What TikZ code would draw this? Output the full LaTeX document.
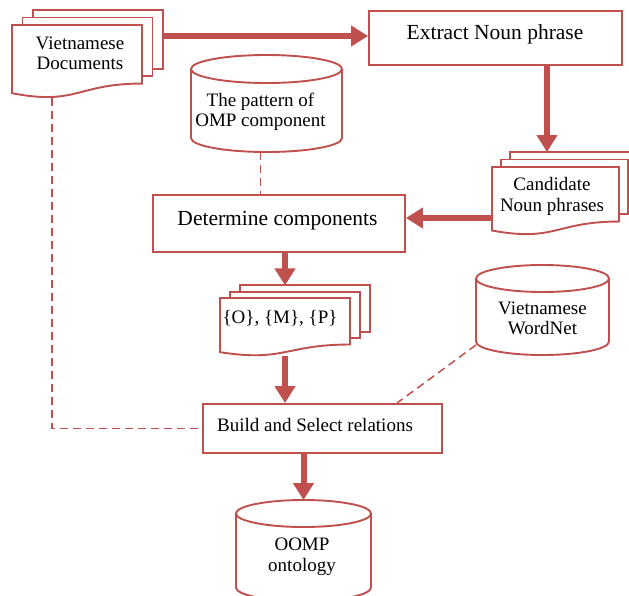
\documentclass[tikz,border=0pt]{standalone}
\usepackage{fontspec}
\setmainfont{Liberation Serif}
\usetikzlibrary{arrows.meta,calc}
\definecolor{rd}{HTML}{C0504D}
\tikzset{
  shp/.style={draw=rd, line width=1.9pt, fill=white},
  ghost/.style={draw=none, inner sep=0pt, outer sep=0pt},
  box/.style={shp, inner sep=0pt},
  arr/.style={draw=rd, line width=6pt, -{Triangle[length=17pt,width=20pt]}},
  dsh/.style={draw=rd, line width=1.5pt, dash pattern=on 8pt off 5pt},
  lbl/.style={font=\fontsize{19}{20.5}\selectfont, align=center, text=black, inner sep=0pt},
  big/.style={font=\fontsize{21.5}{23}\selectfont, text=black, inner sep=0pt},
}
% multi-document: name, x, y, w, h, dx, dy
\newcommand\mdoc[7]{%
  \draw[shp] ({#2+2*#6},{#3-2*#7}) rectangle ({#2+2*#6+#4},{#3+0.802*#5-2*#7});
  \node[ghost, minimum width={#4*1pt}, minimum height={0.802*#5*1pt}, anchor=north west] (#1back) at ({#2+2*#6},{#3-2*#7}) {};
  \draw[shp] ({#2+#6},{#3-#7}) rectangle ({#2+#6+#4},{#3+0.802*#5-#7});
  \draw[shp] (#2,#3) -- ({#2+#4},#3) -- ({#2+#4},{#3+0.802*#5})
     .. controls ({#2+0.5*#4},{#3+0.802*#5}) and ({#2+0.5*#4},{#3+1.107*#5}) .. (#2,{#3+0.934*#5}) -- cycle;
  \node[ghost, minimum width={#4*1pt}, minimum height={#5*1pt}, anchor=north west] (#1) at (#2,#3) {};
}
% cylinder: name, cx, top, w, h, ry
\newcommand\cyl[6]{%
  \draw[shp] ({#2-0.5*#4},{#3+#6}) -- ({#2-0.5*#4},{#3+#5-#6})
     .. controls ({#2-0.5*#4},{#3+#5-#6+0.5523*#6}) and ({#2-0.5523*0.5*#4},{#3+#5}) .. (#2,{#3+#5})
     .. controls ({#2+0.5523*0.5*#4},{#3+#5}) and ({#2+0.5*#4},{#3+#5-#6+0.5523*#6}) .. ({#2+0.5*#4},{#3+#5-#6})
     -- ({#2+0.5*#4},{#3+#6});
  \draw[shp] (#2,{#3+#6}) ellipse [x radius={0.5*#4*1pt}, y radius={#6*1pt}];
  \node[ghost, minimum width={#4*1pt}, minimum height={#5*1pt}, anchor=north] (#1) at (#2,#3) {};
}
\begin{document}
\begin{tikzpicture}[x=1pt,y=-1pt]
\useasboundingbox (0,0) rectangle (629,595);
\clip (0,0) rectangle (629,595);
\fill[white] (0,0) rectangle (629,595);

% documents
\mdoc{vd}{12}{25}{130}{73}{10.5}{7.5}
\mdoc{cd}{492}{167}{127}{68}{9}{7.5}
\mdoc{om}{220}{298}{130}{58}{10}{6.3}

% cylinders
\cyl{pat}{266.5}{55}{151}{97}{14}
\cyl{wn}{542.5}{265}{133}{90}{13.5}
\cyl{oo}{303.5}{500}{135}{101}{13.5}

% process boxes
\node[box, minimum width=253pt, minimum height=54pt] (en) at (495.5,38) {};
\node[box, minimum width=252pt, minimum height=57pt] (det) at (279,223.5) {};
\node[box, minimum width=239pt, minimum height=49pt] (bu) at (322.5,428.5) {};

% texts
\node[lbl] (vdT) at (80,53.5) {Vietnamese\\Documents};
\node[lbl] (cdT) at (552,196.5) {Candidate\\Noun phrases};
\node[lbl] (omT) at (280,318) {\{O\}, \{M\}, \{P\}};
\node[lbl] (patT) at (260.5,112) {The pattern of\\OMP component};
\node[lbl] (wnT) at (542.5,318.5) {Vietnamese\\WordNet};
\node[lbl] (ooT) at (302,556.5) {OOMP\\ontology};
\node[big] (enT) at (495,34) {Extract Noun phrase};
\node[big] (detT) at (277.5,221) {Determine components};
\node[lbl] (buT) at (315,425) {Build and Select relations};

% arrows
\coordinate (a1) at ([yshift=2pt]en.west);
\draw[arr] (vdback.east |- a1) -- (a1);
\coordinate (a2) at ([xshift=51.5pt]en.south);
\draw[arr] (a2) -- (a2 |- cdback.north);
\coordinate (a3) at ([yshift=-17pt]cd.west);
\draw[arr] (a3) -- (a3 -| det.east);
\draw[arr] (det.south -| om.north) -- (om.north |- omback.north);
\draw[arr] (om.south) -- (om.south |- bu.north);
\draw[arr] (oo.north |- bu.south) -- (oo.north);

% dashed links
\draw[dsh] (pat.south -| patT) -- (patT |- det.north);
\coordinate (d1) at ([xshift=-25pt]vd.south);
\draw[dsh] (d1) |- (bu.west);
\coordinate (d2) at ([xshift=74.5pt]bu.north);
\draw[dsh] ([yshift=10pt]wn.south west) -- (d2);
\end{tikzpicture}
\end{document}
